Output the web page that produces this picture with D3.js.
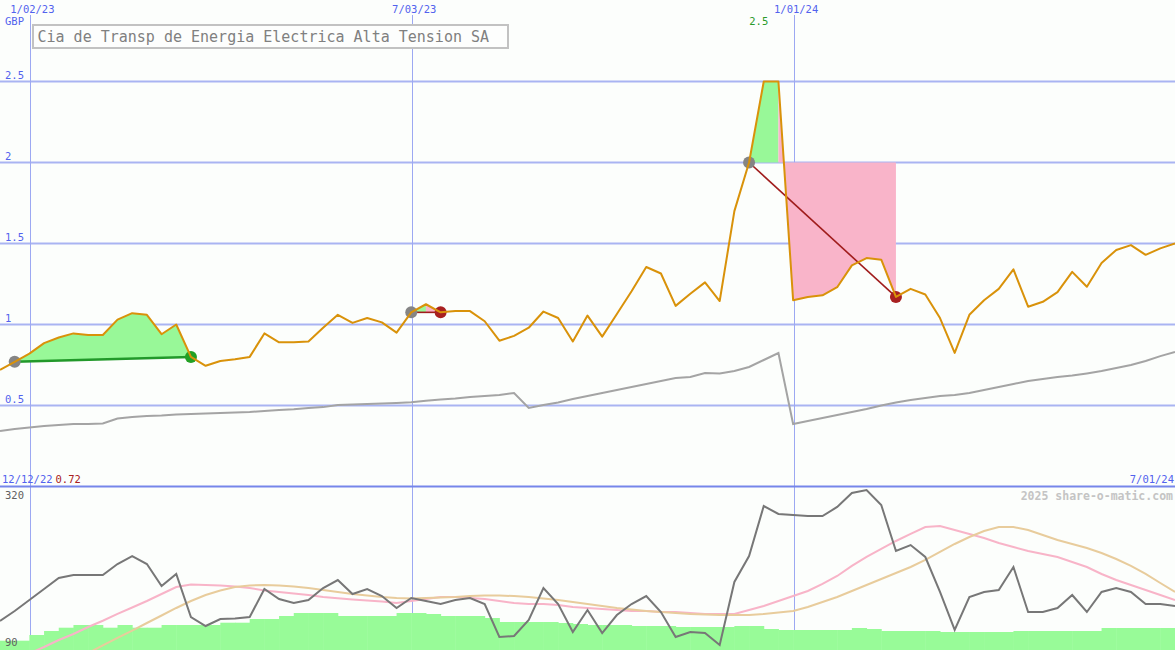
<!DOCTYPE html>
<html><head><meta charset="utf-8">
<script src="https://cdn.jsdelivr.net/npm/d3@7"></script>
<style>
html,body{margin:0;padding:0;background:#fcfefc;}
svg{display:block;}
text{font-family:"DejaVu Sans Mono",monospace;}
</style></head>
<body>
<svg id="c" width="1175" height="650"></svg>
<script>
// ---------- DATA ----------
const startDate = new Date(2022, 11, 19);
const weekCount = 81;
const price = [0.72,0.77,0.82,0.885,0.92,0.945,0.935,0.935,1.03,1.07,1.06,0.94,1.0,0.80,0.745,0.775,0.785,0.80,0.945,0.89,
  0.89,0.895,0.98,1.06,1.01,1.04,1.013,0.95,1.075,1.125,1.075,1.083,1.083,1.02,0.90,0.93,0.98,1.08,1.04,0.895,
  1.055,0.925,1.065,1.205,1.355,1.315,1.115,1.19,1.26,1.145,1.70,2.0,2.5,2.5,1.15,1.17,1.18,1.23,1.365,1.41,
  1.40,1.17,1.22,1.185,1.04,0.825,1.06,1.15,1.22,1.34,1.11,1.14,1.20,1.325,1.233,1.38,1.46,1.49,1.43,1.47,1.50];
const trend = [0.343,0.355,0.364,0.373,0.38,0.386,0.386,0.389,0.42,0.429,0.435,0.438,0.444,0.448,0.451,0.454,0.457,0.46,0.466,0.472,
  0.477,0.485,0.49,0.503,0.506,0.509,0.512,0.515,0.52,0.53,0.537,0.543,0.552,0.559,0.565,0.577,0.485,0.503,0.519,0.54,
  0.559,0.577,0.596,0.614,0.633,0.651,0.67,0.676,0.70,0.698,0.713,0.738,0.781,0.824,0.386,0.404,0.423,0.441,0.46,0.478,
  0.50,0.519,0.534,0.546,0.559,0.565,0.577,0.596,0.614,0.633,0.651,0.664,0.676,0.685,0.698,0.713,0.731,0.75,0.775,0.805,0.83];
const osc = [131.7,146.1,161.9,177.7,193.5,197.8,197.8,197.8,213.6,225.1,213.6,182,199.3,137.4,124.5,134.6,135.3,137.4,177.7,163.3,
  157.6,161.9,179.1,190.6,170.5,177.7,167.6,150.4,164.8,160.4,156.1,161.9,164.8,156.1,108.7,110.1,133.1,179.1,156.1,115.9,
  147.5,114.4,140.3,156.1,167.6,144.6,108.7,115.9,114.4,97.2,187.8,225.1,297,285.5,284.1,282.6,282.6,295.6,315.7,320,
  298.4,232.3,240.9,223.7,173.4,118.8,166.2,173.4,176.3,209.3,144.6,144.6,150.4,169.1,144.6,173.4,179.1,173.4,156.1,156.1,153.3];
const avgFast = [66.1,75.6,85,94.3,104.4,113,123.1,132.1,141.8,151.1,160.4,170.5,180.6,184.2,183.4,182.7,181.3,179.1,175.5,173.4,
  171.2,169.1,166.2,164.3,162.6,161.2,159.7,157.6,160.4,163.3,166.2,166.2,164.8,163.3,160.4,157.6,156.1,156.1,154.7,151.8,
  150.4,148.9,147.5,146.1,146.1,144.6,144.6,143.2,141.8,141.8,141.8,147.5,153.3,160.4,167.6,174.8,184.9,196.4,210.8,223.7,
  235.2,246.7,256.8,266.8,268.3,262.5,256.8,251,243.8,238.1,232.3,228,223.7,216.5,209.3,199.3,190.6,183.4,176.3,169.1,161.9];
const avgSlow = [21,32.5,42.6,54.1,64.1,75.6,85.7,96.5,107.3,118,128.8,139.6,150.4,160.4,169.1,175.5,180.6,182.7,183.4,182.7,
  181.3,179.1,176.3,173.4,170.5,168.3,166.2,164.8,164,164.8,165.5,166.2,167.6,168.3,168.3,167.6,166.2,164,161.9,159,
  156.1,153.3,150.4,148.2,146.1,144.6,143.2,141.8,141,140.3,140.3,140.3,141.8,143.9,146.1,151.8,159,166.2,174.8,183.4,
  192.1,200.7,209.3,219.4,230.9,242.4,252.4,261.1,266.8,266.8,262.5,255.3,248.1,242.4,236.6,229.4,220.8,210.8,199.3,186.3,173.4];
const volume = [9.3,9.3,15,19,22.3,25,25,22.3,25,22.3,22.3,25,25,25,25,27.3,27.3,31,31,34,
  37,37,37,34,34,34,34,37,37,36,34,34,34,32,28,28,28,28,27,26,
  25,25,25,24,24,24,23,23,23,23,24,24,21,20,20,20,20,20,22,21,
  19,19,19,19,18,18,18,18,18,19,19,19,19,19,19,22,22,22,22,22,22];
const priceTicks = [0.5, 1, 1.5, 2, 2.5];
const oscTicks = [320, 90];
const markerDates = [new Date(2023,0,2), new Date(2023,6,3), new Date(2024,0,1)];
const firstDate = new Date(2022,11,12);
const lastDate = new Date(2024,6,1);
const firstPriceLabel = "0.72";
const currencyLabel = "GBP";
const titleText = "Cia de Transp de Energia Electrica Alta Tension SA";
const creditText = "2025 share-o-matic.com";
const tradeEntry = [1, 28, 51];
const tradeExit = [13, 30, 61];
const tradeResult = ["win", "loss", "loss"];

// ---------- SETUP ----------
const dates = d3.range(weekCount).map(i => d3.timeDay.offset(startDate, 7 * i));
const W = 1175, H = 650;
const svg = d3.select("#c");
const x = d3.scaleTime().domain([dates[0], dates[dates.length - 1]]).range([0, W]);
const y = d3.scaleLinear().domain([0, 3]).range([486.5, 0.5]);
const yb = d3.scaleLinear().domain([90, 320]).range([650, 490]);
const yv = d3.scaleLinear().domain([0, 160]).range([650, 490]);
const fmt = d3.timeFormat("%-m/%d/%y");
const blue = "#5262ee", gridC = "#a9b4f2";

svg.append("rect").attr("width", W).attr("height", H).attr("fill", "#fcfefc");
const defs = svg.append("defs");
defs.append("clipPath").attr("id", "cm").append("rect").attr("x", 0).attr("y", 0).attr("width", W).attr("height", 486);
defs.append("clipPath").attr("id", "cb").append("rect").attr("x", 0).attr("y", 488).attr("width", W).attr("height", 162);

// grid lines
svg.append("g").selectAll("line").data(priceTicks).join("line")
  .attr("x1", 0).attr("x2", W).attr("y1", d => y(d)).attr("y2", d => y(d))
  .attr("stroke", gridC).attr("stroke-width", 2);
// vertical markers
svg.append("g").selectAll("line").data(markerDates).join("line")
  .attr("x1", d => Math.ceil(x(d)) + 0.5).attr("x2", d => Math.ceil(x(d)) + 0.5)
  .attr("y1", 15).attr("y2", H).attr("stroke", "#9ca8f2").attr("stroke-width", 1)
  .attr("shape-rendering", "crispEdges");
// separator
svg.append("line").attr("x1", 0).attr("x2", W).attr("y1", 486.5).attr("y2", 486.5)
  .attr("stroke", "#7686ea").attr("stroke-width", 2);

// ---------- MAIN PANEL ----------
const gm = svg.append("g").attr("clip-path", "url(#cm)");
const P = i => [x(dates[i]), y(price[i])];
const poly = pts => "M" + pts.map(p => p.join(",")).join("L") + "Z";

tradeEntry.forEach((e, k) => {
  const ex = tradeExit[k];
  if (tradeResult[k] === "win") {
    const pts = d3.range(e, ex + 1).map(P);
    pts.push([x(dates[ex]), y(price[ex])], [x(dates[e]), y(price[e])]);
    gm.append("path").attr("d", poly(pts)).attr("fill", "#98f898");
  } else {
    const lvl = y(price[e]);
    let pk = e;
    for (let i = e; i <= ex; i++) if (price[i] > price[pk]) pk = i;
    let pkEnd = pk;
    while (pkEnd + 1 <= ex && price[pkEnd + 1] === price[pk]) pkEnd++;
    const g = d3.range(e, pkEnd + 1).map(P);
    g.push([x(dates[pkEnd]), lvl]);
    gm.append("path").attr("d", poly(g)).attr("fill", "#98f898");
    const r = d3.range(pkEnd, ex + 1).map(P);
    r.push([x(dates[ex]), lvl], [x(dates[pkEnd]), lvl]);
    gm.append("path").attr("d", poly(r)).attr("fill", "#f9b4c9");
  }
});

// long trend line
gm.append("path").datum(trend)
  .attr("d", d3.line().x((d, i) => x(dates[i])).y(d => y(d)))
  .attr("fill", "none").attr("stroke", "#a4a4a4").attr("stroke-width", 2);

// trade lines
tradeEntry.forEach((e, k) => {
  const ex = tradeExit[k];
  gm.append("line").attr("x1", x(dates[e])).attr("y1", y(price[e]))
    .attr("x2", x(dates[ex])).attr("y2", y(price[ex]))
    .attr("stroke", tradeResult[k] === "win" ? "#22992a" : "#a01c1c")
    .attr("stroke-width", tradeResult[k] === "win" ? 2.5 : 1.6);
});
// trade circles
tradeEntry.forEach((e, k) => {
  const ex = tradeExit[k];
  gm.append("circle").attr("cx", x(dates[e])).attr("cy", y(price[e])).attr("r", 6).attr("fill", "#858585");
  gm.append("circle").attr("cx", x(dates[ex])).attr("cy", y(price[ex])).attr("r", 6)
    .attr("fill", tradeResult[k] === "win" ? "#22a024" : "#a82020");
});

// price line
gm.append("path").datum(price)
  .attr("d", d3.line().x((d, i) => x(dates[i])).y(d => y(d)))
  .attr("fill", "none").attr("stroke", "#d9920a").attr("stroke-width", 2).attr("stroke-linejoin", "round");

// ---------- BOTTOM PANEL ----------
const gb = svg.append("g").attr("clip-path", "url(#cb)");
gb.append("g").selectAll("rect").data(volume).join("rect")
  .attr("x", (d, i) => x(dates[i]))
  .attr("width", (d, i) => i < dates.length - 1 ? x(dates[i + 1]) - x(dates[i]) + 0.5 : 15)
  .attr("y", d => yv(d)).attr("height", d => yv(0) - yv(d))
  .attr("fill", "#98fb98");
const bl = d3.line().x((d, i) => x(dates[i])).y(d => yb(d));
gb.append("path").datum(avgFast).attr("d", bl).attr("fill", "none").attr("stroke", "#f8b4c8").attr("stroke-width", 2);
gb.append("path").datum(avgSlow).attr("d", bl).attr("fill", "none").attr("stroke", "#e8cc9c").attr("stroke-width", 2);
gb.append("path").datum(osc).attr("d", bl).attr("fill", "none").attr("stroke", "#777777").attr("stroke-width", 2);

// ---------- TEXT ----------
svg.append("g").selectAll("text").data(priceTicks).join("text")
  .attr("x", 5).attr("y", d => y(d) - 3).attr("fill", blue).attr("font-size", 10.5)
  .text(d => String(d));
svg.append("text").attr("x", 5).attr("y", 25).attr("fill", blue).attr("font-size", 10.5).text(currencyLabel);
svg.append("g").selectAll("text").data(markerDates).join("text")
  .attr("x", d => x(d) + 3).attr("y", 12.5).attr("text-anchor", "middle")
  .attr("fill", blue).attr("font-size", 10.5).text(d => fmt(d));

// peak label
const pkI = d3.maxIndex(price);
svg.append("text").attr("x", x(dates[pkI]) + 4.5).attr("y", 25).attr("text-anchor", "end")
  .attr("fill", "#2a9a2a").attr("font-size", 10.5).text(String(price[pkI]));

// title box
svg.append("rect").attr("x", 33).attr("y", 25).attr("width", 475).attr("height", 23)
  .attr("fill", "#fdfefd").attr("stroke", "#c2c2c2").attr("stroke-width", 2);
svg.append("text").attr("x", 37.5).attr("y", 42).attr("fill", "#808080").attr("font-size", 15).text(titleText);

// bottom labels
svg.append("text").attr("x", 2).attr("y", 482.5).attr("fill", blue).attr("font-size", 10.5).text(fmt(firstDate));
svg.append("text").attr("x", 55.5).attr("y", 482.5).attr("fill", "#a82020").attr("font-size", 10.5).text(firstPriceLabel);
svg.append("text").attr("x", 1174).attr("y", 482.5).attr("text-anchor", "end").attr("fill", blue).attr("font-size", 10.5).text(fmt(lastDate));
svg.append("text").attr("x", 1173).attr("y", 500).attr("text-anchor", "end").attr("fill", "#c4c4c4")
  .attr("font-size", 11.5).attr("font-weight", "bold").text(creditText);
svg.append("g").selectAll("text").data(oscTicks).join("text")
  .attr("x", 5).attr("y", (d, i) => i === 0 ? 499 : 645.5).attr("fill", "#606060").attr("font-size", 10.5)
  .text(d => String(d));
</script>
</body></html>
